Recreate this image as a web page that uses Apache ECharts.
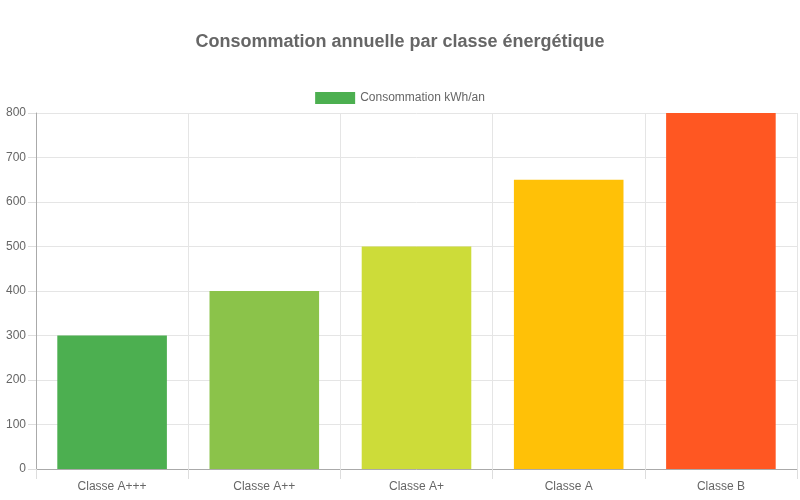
<!DOCTYPE html>
<html>
<head>
<meta charset="utf-8">
<script src="https://cdn.jsdelivr.net/npm/echarts@6/dist/echarts.min.js"></script>
<style>
  html, body { margin: 0; padding: 0; background: #fff; }
  #chart { width: 800px; height: 500px; }
</style>
</head>
<body>
<div id="chart"></div>
<script>
  var categories = ['Classe A+++', 'Classe A++', 'Classe A+', 'Classe A', 'Classe B'];
  var values = [300, 400, 500, 650, 800];
  var barColors = ['#4CAF50', '#8BC34A', '#CDDC39', '#FFC107', '#FF5722'];
  var seriesName = 'Consommation kWh/an';

  var chart = echarts.init(document.getElementById('chart'), null, { renderer: 'canvas' });

  chart.setOption({
    backgroundColor: '#ffffff',
    animation: false,
    textStyle: { fontFamily: 'Liberation Sans, Arial, sans-serif' },
    title: {
      text: 'Consommation annuelle par classe énergétique',
      left: 'center',
      top: 28,
      textStyle: { color: '#666', fontSize: 18, fontWeight: 'bold', fontFamily: 'Liberation Sans, Arial, sans-serif' }
    },
    legend: {
      top: 87,
      left: 'center',
      itemWidth: 40,
      itemHeight: 12,
      itemGap: 10,
      icon: 'rect',
      textStyle: { color: '#666', fontSize: 12 },
      data: [{ name: seriesName, itemStyle: { color: barColors[0] } }]
    },
    grid: { left: 36, right: 3, top: 113, bottom: 31, containLabel: false },
    xAxis: {
      type: 'category',
      data: categories,
      axisLine: { show: true, lineStyle: { color: '#aaa' } },
      axisTick: { show: true, length: 10, alignWithLabel: false, lineStyle: { color: '#ddd' } },
      splitLine: { show: true, lineStyle: { color: '#e5e5e5' } },
      axisLabel: { color: '#666', fontSize: 12, margin: 12 }
    },
    yAxis: {
      type: 'value',
      min: 0,
      max: 800,
      interval: 100,
      axisLine: { show: true, lineStyle: { color: '#aaa' } },
      axisTick: { show: true, length: 8, lineStyle: { color: '#ddd' } },
      splitLine: { show: true, lineStyle: { color: '#e5e5e5' } },
      axisLabel: { color: '#666', fontSize: 12, margin: 10 }
    },
    series: [{
      name: seriesName,
      type: 'bar',
      barWidth: '72%',
      data: values.map(function (v, i) {
        return { value: v, itemStyle: { color: barColors[i] } };
      })
    }]
  });
</script>
</body>
</html>
